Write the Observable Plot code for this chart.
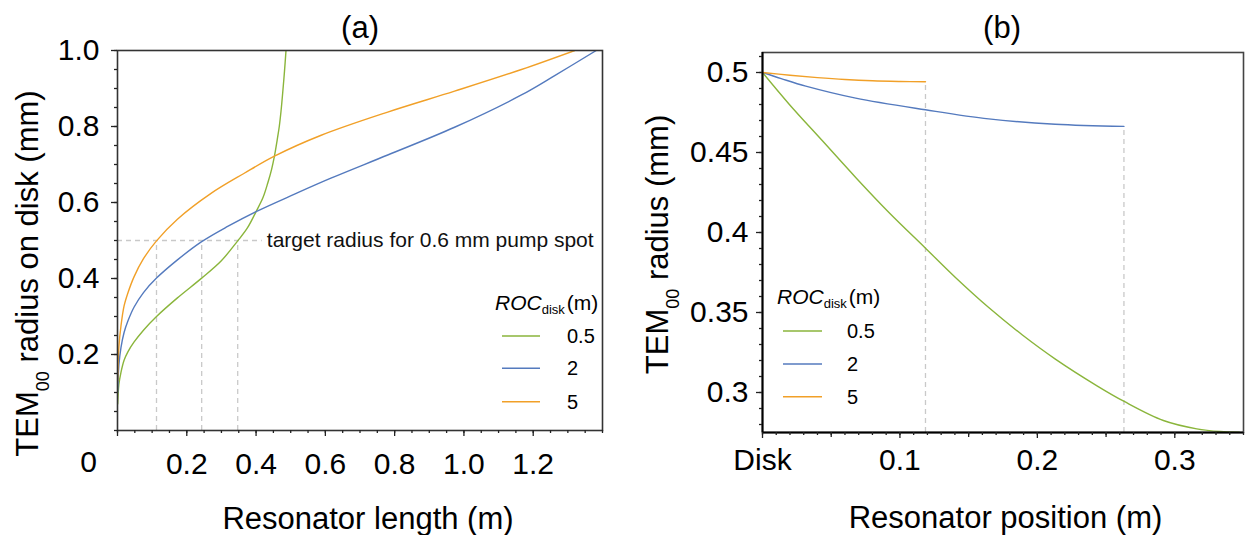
<!DOCTYPE html>
<html>
<head>
<meta charset="utf-8">
<script src="https://cdn.jsdelivr.net/npm/d3@7"></script>
<script src="https://cdn.jsdelivr.net/npm/@observablehq/plot@0.6"></script>
<style>
  html, body { margin: 0; padding: 0; background: #fff; }
  #wrap { position: relative; width: 1246px; height: 535px; overflow: hidden; }
  #wrap > svg { position: absolute; top: 0; }
</style>
</head>
<body>
<div id="wrap"></div>
<script>
const FONT = '"Liberation Sans", Arial, Helvetica, sans-serif';

// ---- series (ROC of disk, m) ----
const rocLabels = ["0.5", "2", "5"];
const rocColors = ["#8ab53b", "#547abe", "#f1a028"];

// ---- panel (a): TEM00 radius on disk vs resonator length ----
const lenA_roc05 = [0.0005, 0.004, 0.01, 0.019, 0.03, 0.048, 0.075, 0.1126, 0.173, 0.243, 0.299, 0.347, 0.375, 0.4, 0.42, 0.434, 0.445, 0.453, 0.461, 0.467, 0.472, 0.477, 0.482, 0.4864];
const radA_roc05 = [0.07, 0.121, 0.153, 0.185, 0.207, 0.233, 0.264, 0.300, 0.349, 0.401, 0.446, 0.499, 0.533, 0.576, 0.613, 0.652, 0.688, 0.722, 0.765, 0.80, 0.84, 0.89, 0.945, 1.0];
const lenA_roc2 = [0.0005, 0.004, 0.01, 0.019, 0.03, 0.048, 0.075, 0.1126, 0.173, 0.243, 0.318, 0.4, 0.511, 0.616, 0.78, 0.973, 1.166, 1.262, 1.382];
const radA_roc2 = [0.10, 0.172, 0.218, 0.258, 0.288, 0.325, 0.363, 0.401, 0.449, 0.497, 0.537, 0.576, 0.622, 0.664, 0.725, 0.798, 0.883, 0.934, 1.0];
const lenA_roc5 = [0.0005, 0.004, 0.01, 0.019, 0.03, 0.048, 0.075, 0.1126, 0.173, 0.27, 0.366, 0.453, 0.588, 0.78, 0.973, 1.166, 1.32];
const radA_roc5 = [0.13, 0.22, 0.275, 0.328, 0.362, 0.405, 0.452, 0.499, 0.556, 0.624, 0.677, 0.722, 0.777, 0.838, 0.893, 0.950, 1.0];

const targetRadius = 0.5;                    // mm
const targetLengths = [0.1126, 0.243, 0.347]; // lengths where each curve reaches target
const targetLineEnd = 0.418;
const targetNote = "target radius for 0.6 mm pump spot";
const targetNoteX = 0.431;

const xTicksA = [0.2, 0.4, 0.6, 0.8, 1.0, 1.2];
const xTickLabelsA = ["0.2", "0.4", "0.6", "0.8", "1.0", "1.2"];
const yTicksA = [0.2, 0.4, 0.6, 0.8, 1.0];
const yTickLabelsA = ["0.2", "0.4", "0.6", "0.8", "1.0"];

// ---- panel (b): TEM00 radius along the resonator ----
const posB_roc05 = [0, 0.0194, 0.0436, 0.0678, 0.092, 0.1186, 0.1404, 0.1646, 0.1889, 0.2131, 0.2434, 0.2632, 0.2917, 0.316, 0.333, 0.347];
const radB_roc05 = [0.5, 0.4802, 0.4573, 0.4344, 0.4125, 0.3902, 0.3719, 0.3531, 0.3361, 0.3209, 0.3042, 0.2944, 0.2825, 0.2773, 0.2756, 0.2752];
const posB_roc2 = [0, 0.0136, 0.0315, 0.0678, 0.1186, 0.1646, 0.213, 0.263];
const radB_roc2 = [0.5, 0.4962, 0.4915, 0.4840, 0.4767, 0.4710, 0.4677, 0.4663];
const posB_roc5 = [0, 0.02, 0.04, 0.06, 0.08, 0.1, 0.1186];
const radB_roc5 = [0.5, 0.4983, 0.4968, 0.4956, 0.4948, 0.4944, 0.4942];

const xTicksB = [0, 0.1, 0.2, 0.3];
const xTickLabelsB = ["Disk", "0.1", "0.2", "0.3"];
const yTicksB = [0.3, 0.35, 0.4, 0.45, 0.5];
const yTickLabelsB = ["0.3", "0.35", "0.4", "0.45", "0.5"];

// ---- build tables ----
const rows = (roc, xs, ys) => xs.map((x, i) => ({roc, x, y: ys[i]}));
const dataA = [
  ...rows("0.5", lenA_roc05, radA_roc05),
  ...rows("2", lenA_roc2, radA_roc2),
  ...rows("5", lenA_roc5, radA_roc5)
];
const dataB = [
  ...rows("0.5", posB_roc05, radB_roc05),
  ...rows("2", posB_roc2, radB_roc2),
  ...rows("5", posB_roc5, radB_roc5)
];
const endsB = [
  {x: posB_roc5[posB_roc5.length - 1], y: radB_roc5[radB_roc5.length - 1]},
  {x: posB_roc2[posB_roc2.length - 1], y: radB_roc2[radB_roc2.length - 1]}
];

const GUIDE = {stroke: "#c9c9c9", strokeWidth: 1.3, strokeDasharray: "5,4"};
const TICKFONT = 30;
const TITLEFONT = 31;
const wrap = document.getElementById("wrap");

// ================= panel (a) =================
const xDomA = [0, 1.4], yDomA = [0, 1.0];
const minorXA = d3.range(0, 29).map(i => i * 0.05);
const minorYA = d3.range(0, 21).map(i => i * 0.05);

const plotA = Plot.plot({
  width: 625, height: 535,
  marginLeft: 117, marginRight: 23, marginTop: 50, marginBottom: 105,
  style: {fontFamily: FONT, color: "#000", background: "transparent"},
  x: {domain: xDomA, label: null},
  y: {domain: yDomA, label: null},
  color: {domain: rocLabels, range: rocColors},
  marks: [
    Plot.ruleX(targetLengths, {y1: 0, y2: targetRadius, ...GUIDE}),
    Plot.ruleY([targetRadius], {x1: 0, x2: targetLineEnd, ...GUIDE}),
    Plot.text([{x: targetNoteX, y: targetRadius, t: targetNote}], {x: "x", y: "y", text: "t", textAnchor: "start", lineAnchor: "middle", fontSize: 21, fill: "#111"}),
    Plot.line(dataA, {x: "x", y: "y", z: "roc", stroke: "roc", strokeWidth: 1.4, curve: "catmull-rom", clip: true}),
    Plot.frame({stroke: "#333", strokeWidth: 1.6}),
    Plot.axisY(minorYA, {tickSize: 3, fill: "none", tickFormat: () => "", label: null, stroke: "#222", strokeWidth: 1.3}),
    Plot.axisY(yTicksA, {tickSize: 6, tickPadding: 12, fontSize: TICKFONT, tickFormat: (d, i) => yTickLabelsA[i], label: null, stroke: "#222", strokeWidth: 1.3}),
    Plot.axisX(minorXA, {tickSize: 3, fill: "none", tickFormat: () => "", label: null, stroke: "#222", strokeWidth: 1.3}),
    Plot.axisX([0].concat(xTicksA), {tickSize: 6, fill: "none", tickFormat: () => "", label: null, stroke: "#222", strokeWidth: 1.3}),
    Plot.axisX(xTicksA, {tickSize: 0, tickPadding: 22, fontSize: TICKFONT, tickFormat: (d, i) => xTickLabelsA[i], label: null}),
    Plot.axisX([0], {tickSize: 0, tickPadding: 20, fontSize: TICKFONT, tickFormat: () => "0", dx: -29, label: null}),
    Plot.text(["(a)"], {text: d => d, frameAnchor: "top", dy: -13, lineAnchor: "bottom", fontSize: TITLEFONT}),
    Plot.text(["Resonator length (m)"], {text: d => d, frameAnchor: "bottom", dx: 8, dy: 98, lineAnchor: "bottom", fontSize: TITLEFONT}),
    Plot.text(["TEM00 radius on disk (mm)"], {text: d => d, frameAnchor: "left", textAnchor: "middle", rotate: -90, dx: -80, dy: 33, lineAnchor: "bottom", fontSize: TITLEFONT})
  ]
});
plotA.style.left = "0px";
wrap.appendChild(plotA);

// ================= panel (b) =================
const xDomB = [0, 0.35], yDomB = [0.275, 0.5125];
const minorXB = d3.range(0, 36).map(i => i / 100);
const midXB = [0.05, 0.15, 0.25];
const minorYB = d3.range(28, 52).map(i => i / 100);

const plotB = Plot.plot({
  width: 621, height: 535,
  marginLeft: 137, marginRight: 3, marginTop: 52, marginBottom: 103,
  style: {fontFamily: FONT, color: "#000", background: "transparent"},
  x: {domain: xDomB, label: null},
  y: {domain: yDomB, label: null},
  color: {domain: rocLabels, range: rocColors},
  marks: [
    Plot.ruleX(endsB, {x: "x", y1: yDomB[0], y2: "y", ...GUIDE}),
    Plot.line(dataB, {x: "x", y: "y", z: "roc", stroke: "roc", strokeWidth: 1.4, curve: "catmull-rom", clip: true}),
    Plot.frame({stroke: "#444", strokeWidth: 1.6}),
    Plot.ruleX([xDomB[0]], {stroke: "#000", strokeWidth: 2}),
    Plot.ruleY([yDomB[0]], {stroke: "#000", strokeWidth: 2}),
    Plot.axisY(minorYB, {tickSize: 3, fill: "none", tickFormat: () => "", label: null, stroke: "#222", strokeWidth: 1.3}),
    Plot.axisY(yTicksB, {tickSize: 6, tickPadding: 8, fontSize: TICKFONT, tickFormat: (d, i) => yTickLabelsB[i], label: null, stroke: "#222", strokeWidth: 1.3}),
    Plot.axisX(minorXB, {tickSize: 3, fill: "none", tickFormat: () => "", label: null, stroke: "#222", strokeWidth: 1.3}),
    Plot.axisX(midXB, {tickSize: 5, fill: "none", tickFormat: () => "", label: null, stroke: "#222", strokeWidth: 1.3}),
    Plot.axisX(xTicksB, {tickSize: 6, tickPadding: 10, fontSize: TICKFONT, tickFormat: (d, i) => xTickLabelsB[i], label: null, stroke: "#222", strokeWidth: 1.3}),
    Plot.text(["(b)"], {text: d => d, frameAnchor: "top", dx: -1, dy: -15, lineAnchor: "bottom", fontSize: TITLEFONT}),
    Plot.text(["Resonator position (m)"], {text: d => d, frameAnchor: "bottom", dx: 2.5, dy: 95, lineAnchor: "bottom", fontSize: TITLEFONT}),
    Plot.text(["TEM00 radius (mm)"], {text: d => d, frameAnchor: "left", textAnchor: "middle", rotate: -90, dx: -95, dy: 2, lineAnchor: "bottom", fontSize: TITLEFONT})
  ]
});
plotB.style.left = "625px";
wrap.appendChild(plotB);

// ---- subscripts in the axis titles (TEM00) ----
[plotA, plotB].forEach(svg => {
  d3.select(svg).selectAll("text").each(function () {
    const t = this.textContent;
    if (t.startsWith("TEM00")) {
      const sel = d3.select(this);
      sel.text(null);
      sel.append("tspan").text("TEM");
      sel.append("tspan").attr("font-size", 18).attr("dy", 11).text("00");
      sel.append("tspan").attr("dy", -11).text(t.slice(5));
    }
  });
});

// ---- legends ----
const legendLayout = [
  {x: 495, y: 310, x1: 502, x2: 540, rows: [336, 368.3, 401.7], labelX: 567},
  {x: 777, y: 303.5, x1: 783, x2: 822, rows: [331, 364, 396.7], labelX: 847}
];
const ov = d3.select(wrap).append("svg")
  .attr("width", 1246).attr("height", 535)
  .style("left", "0px").style("pointer-events", "none")
  .attr("font-family", FONT);
legendLayout.forEach(L => {
  const g = ov.append("g");
  const title = g.append("text").attr("x", L.x).attr("y", L.y).attr("font-size", 21).attr("fill", "#000");
  title.append("tspan").attr("font-style", "italic").text("ROC");
  title.append("tspan").attr("font-size", 13).attr("dy", 4).text("disk");
  title.append("tspan").attr("dy", -4).attr("dx", 2).text("(m)");
  rocLabels.forEach((r, i) => {
    g.append("line").attr("x1", L.x1).attr("x2", L.x2).attr("y1", L.rows[i]).attr("y2", L.rows[i])
      .attr("stroke", rocColors[i]).attr("stroke-width", 1.6);
    g.append("text").attr("x", L.labelX).attr("y", L.rows[i] + 7).attr("font-size", 20).attr("fill", "#000").text(r);
  });
});
</script>
</body>
</html>
